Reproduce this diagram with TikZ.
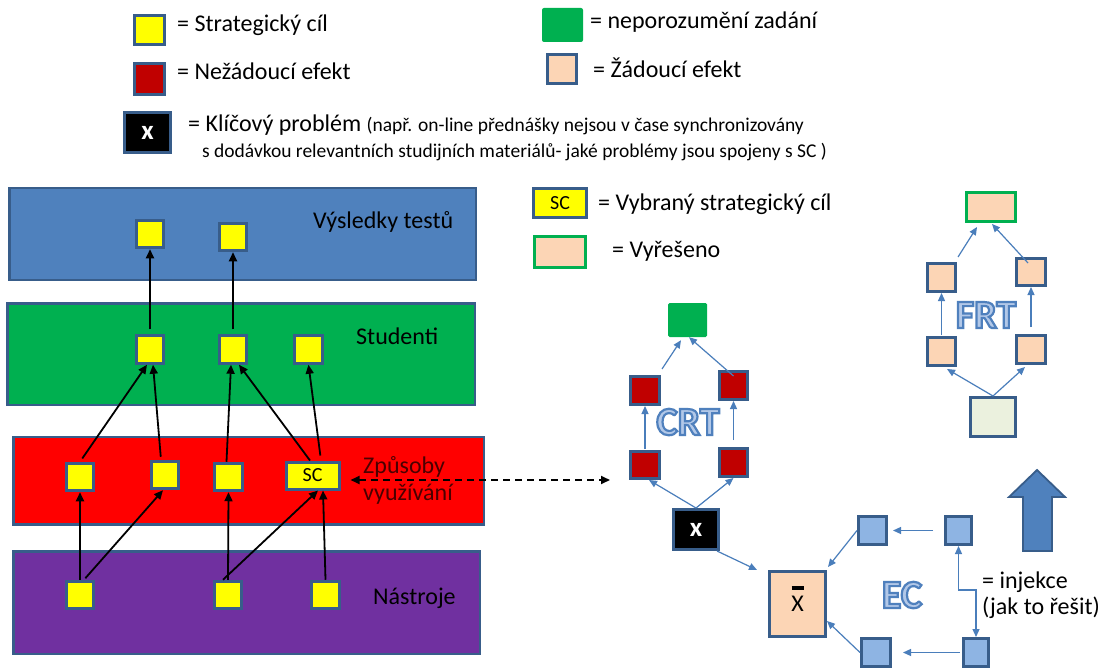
\documentclass[tikz,border=0pt]{standalone}
\usepackage{fontspec}
\setmainfont{Carlito}
\usetikzlibrary{arrows.meta}
\definecolor{bord}{HTML}{385D8A}
\definecolor{yel}{HTML}{FFFF00}
\definecolor{dred}{HTML}{C00000}
\definecolor{grn}{HTML}{00B050}
\definecolor{peach}{HTML}{FCD5B5}
\definecolor{pgreen}{HTML}{EBF1DE}
\definecolor{bandblue}{HTML}{4F81BD}
\definecolor{bandred}{HTML}{FF0000}
\definecolor{bandpurple}{HTML}{7030A0}
\definecolor{lblue}{HTML}{8EB4E3}
\definecolor{arrblue}{HTML}{4A7EBB}
\definecolor{inc}{HTML}{B2C8E8}
\definecolor{zptext}{HTML}{4A0000}
\newcommand\outlinetext[1]{{\color{inc}\special{pdf:literal direct 2 Tr 2.2 w 0.31 0.50 0.74 RG}#1\special{pdf:literal direct 0 Tr}}}
\tikzset{
 sq/.style={rectangle, draw=bord, line width=3pt, inner sep=0pt, minimum width=27.5pt, minimum height=27.5pt},
 ysq/.style={sq, fill=yel},
 rsq/.style={sq, fill=dred},
 psq/.style={sq, fill=peach},
 bsq/.style={sq, fill=lblue},
 band/.style={rectangle, draw=bord, line width=2.5pt, inner sep=0pt},
 lbl/.style={inner sep=0pt, anchor=base west, font=\fontsize{24}{29}\selectfont},
 blk/.style={-{Triangle[length=9pt,width=8pt]}, line width=1.8pt, draw=black},
 bla/.style={-{Triangle[length=8pt,width=7pt]}, line width=1.2pt, draw=arrblue},
 bigt/.style={font=\bfseries\fontsize{40}{48}\selectfont, inner sep=0pt},
 xtext/.style={text=white, font=\bfseries\fontsize{27}{32}\selectfont},
 sctext/.style={font=\fontsize{20}{24}\selectfont}
}
\begin{document}
\begin{tikzpicture}[x=1pt,y=-1pt]
\useasboundingbox[fill=white] (0,0) rectangle (1102,668);

% ---------- legend ----------
\node[ysq, minimum width=30pt, minimum height=29pt] (lgY) at (149.5,30) {};
\node[lbl] (lgYt) at (177,32) {= Strategický cíl};
\node[rsq, minimum width=30pt, minimum height=30.5pt] (lgR) at (149.5,79) {};
\node[lbl] (lgRt) at (177,80) {= Nežádoucí efekt};
\node[sq, fill=black, minimum width=46pt, minimum height=40pt, xtext] (lgX) at (147.5,132.5) {x};
\node[lbl] (lgXt) at (188,132) {= Klíčový problém {\fontsize{19.5}{23}\selectfont (např. on-line přednášky nejsou v čase synchronizovány}};
\node[lbl, font=\fontsize{19.5}{23}\selectfont] (lgXt2) at (202,158) {s dodávkou relevantních studijních materiálů- jaké problémy jsou spojeny s SC )};

\node[rectangle, fill=grn, rounded corners=2pt, minimum width=41pt, minimum height=34pt, inner sep=0pt] (lgG) at (562.5,25) {};
\node[lbl] (lgGt) at (590,29) {= neporozumění zadání};
\node[psq, minimum width=29pt, minimum height=29pt] (lgP) at (562,69) {};
\node[lbl] (lgPt) at (593,78) {= Žádoucí efekt};
\node[ysq, minimum width=53.5pt, minimum height=29pt, sctext] (lgSC) at (560,203) {SC};
\node[lbl] (lgSCt) at (598,211) {= Vybraný strategický cíl};
\node[psq, draw=grn, minimum width=51pt, minimum height=31pt] (lgV) at (559.5,252) {};
\node[lbl] (lgVt) at (612,258) {= Vyřešeno};

% ---------- bands ----------
\node[band, fill=bandblue, minimum width=466.5pt, minimum height=91.5pt] (bV) at (242.5,234) {};
\node[band, fill=grn, minimum width=467.5pt, minimum height=101.5pt] (bS) at (241,354) {};
\node[band, fill=bandred, minimum width=470.5pt, minimum height=87.5pt] (bZ) at (248.5,480.5) {};
\node[band, fill=bandpurple, minimum width=466.5pt, minimum height=102.5pt] (bN) at (246.5,602.5) {};

\node[lbl] (tV) at (313,229) {Výsledky testů};
\node[lbl] (tS) at (356,344) {Studenti};
\node[lbl, text=zptext] (tZ1) at (363,473) {Způsoby};
\node[lbl, text=zptext] (tZ2) at (363,500) {využívání};
\node[lbl] (tN) at (373,604) {Nástroje};

% squares
\node[ysq] (vy1) at (150,234) {};
\node[ysq] (vy2) at (233,237) {};
\node[ysq] (st1) at (150,349.5) {};
\node[ysq] (st2) at (233,349.5) {};
\node[ysq] (st3) at (308.5,349.5) {};
\node[ysq] (zp1) at (80,477) {};
\node[ysq] (zp2) at (165,475) {};
\node[ysq] (zp3) at (228.5,477) {};
\node[ysq, minimum width=53pt, minimum height=27pt, sctext] (SC) at (312.5,475.5) {SC};
\node[ysq] (na1) at (80,595) {};
\node[ysq] (na2) at (228,595) {};
\node[ysq] (na3) at (325.5,595) {};

% black arrows
\draw[blk, shorten <=5pt] (st1.north) -- (vy1.south);
\draw[blk, shorten <=5pt] (st2.north) -- (vy2.south);
\draw[blk, shorten <=4pt] (zp1.north) -- ([xshift=-3pt]st1.south);
\draw[blk, shorten <=3pt] ([xshift=-4pt]zp2.north) -- ([xshift=3pt]st1.south);
\draw[blk] ([xshift=-2pt]zp3.north) -- ([xshift=-2pt]st2.south);
\draw[blk] ([xshift=-2.5pt]SC.north) -- ([xshift=6pt]st2.south);
\draw[blk, shorten <=5pt] ([xshift=8.5pt]SC.north) -- (st3.south);
\draw[blk] (na1.north) -- (zp1.south);
\draw[blk, shorten <=2pt] ([xshift=4pt]na1.north) -- ([xshift=-2pt]zp2.south);
\draw[blk] (na2.north) -- (zp3.south);
\draw[blk] ([xshift=-5pt]na2.north) -- ([xshift=5.5pt]SC.south);
\draw[blk] (na3.north) -- ([xshift=10.5pt]SC.south);

% ---------- CRT ----------
\node[rectangle, fill=grn, rounded corners=1.5pt, minimum width=39pt, minimum height=34pt, inner sep=0pt] (crtG) at (687.5,320) {};
\node[rsq, minimum width=29pt, minimum height=28pt] (crtL2) at (645,390.5) {};
\node[rsq, minimum width=28pt, minimum height=28pt] (crtR2) at (733.5,385.5) {};
\node[rsq, minimum width=29pt, minimum height=27pt] (crtL1) at (645,465) {};
\node[rsq, minimum width=28pt, minimum height=28pt] (crtR1) at (733.5,462.5) {};
\node[sq, fill=black, minimum width=45pt, minimum height=40pt, xtext] (crtX) at (696,529.5) {x};
\node[bigt] (crtT) at (688,422) {\outlinetext{CRT}};

\draw[bla] (crtX.north) -- ([xshift=4pt]crtL1.south);
\draw[bla] (crtX.north) -- (crtR1.south);
\draw[bla, shorten <=1pt] (crtL1.north) -- (crtL2.south);
\draw[bla, shorten <=7pt] (crtR1.north) -- (crtR2.south);
\draw[bla] ([xshift=17pt,yshift=6pt]crtL2.north) -- ([xshift=-6.5pt,yshift=-3pt]crtG.south);
\draw[bla] ([yshift=-6pt]crtR2.north) -- ([xshift=1.5pt]crtG.south);

% dashed link
\draw[{Triangle[length=9pt,width=8pt]}-{Triangle[length=9pt,width=8pt]}, line width=1.8pt, dash pattern=on 7pt off 5pt]
  ([xshift=10pt,yshift=-4.5pt]SC.east) -- ([xshift=-19pt,yshift=-15pt]crtL1.west);

% ---------- FRT ----------
\node[psq, draw=grn, minimum width=49pt, minimum height=29pt] (frtT) at (991,207) {};
\node[psq, minimum width=28pt, minimum height=28pt] (frtL2) at (941.5,277.5) {};
\node[psq, minimum width=29pt, minimum height=27pt] (frtR2) at (1031,272) {};
\node[psq, minimum width=28pt, minimum height=28pt] (frtL1) at (941.5,351.5) {};
\node[psq, minimum width=29pt, minimum height=28pt] (frtR1) at (1031,349.5) {};
\node[sq, fill=pgreen, minimum width=45pt, minimum height=39pt] (frtB) at (993,417) {};
\node[bigt] (frtTx) at (986,315) {\outlinetext{FRT}};

\draw[bla] (frtB.north) -- ([xshift=5.5pt,yshift=-2pt]frtL1.south);
\draw[bla] (frtB.north) -- ([xshift=-6pt,yshift=-2pt]frtR1.south);
\draw[bla, shorten <=1pt] (frtL1.north) -- (frtL2.south);
\draw[bla, shorten <=7pt] (frtR1.north) -- (frtR2.south);
\draw[bla] ([xshift=16.5pt,yshift=5pt]frtL2.north) -- ([xshift=-14pt,yshift=-4pt]frtT.south);
\draw[bla] ([xshift=-3pt,yshift=-6pt]frtR2.north) -- ([xshift=1pt,yshift=-1pt]frtT.south);

% big arrow
\draw[fill=bandblue, draw=bord, line width=1.8pt, line join=miter]
  (1023,551) -- (1023,497) -- (1009,497) -- (1037,470) -- (1065,497) -- (1052,497) -- (1052,551) -- cycle;

% ---------- EC ----------
\node[psq, minimum width=56pt, minimum height=65pt, text depth=10pt, font=\fontsize{24}{29}\selectfont] (xbar) at (797.5,604) {\rlap{\hspace{0.3pt}\raisebox{22pt}{\rule{12pt}{3.5pt}}}X};
\node[bsq, minimum width=28pt, minimum height=28pt] (ecUL) at (872.5,530.5) {};
\node[bsq, minimum width=26pt, minimum height=28pt] (ecUR) at (958.5,530.5) {};
\node[bsq, minimum width=29pt, minimum height=28pt] (ecLL) at (876,652.5) {};
\node[bsq, minimum width=25pt, minimum height=28pt] (ecLR) at (976,652.5) {};
\node[bigt] (ecT) at (902,595) {\outlinetext{EC}};
\node[lbl] (inj1) at (982,588) {= injekce};
\node[lbl] (inj2) at (982,614) {(jak to řešit)};

\draw[bla, shorten <=11pt, shorten >=5pt] (ecUR.west) -- (ecUL.east);
\draw[bla] (ecUL.west) -- ([xshift=1pt,yshift=3pt]xbar.north east);
\draw[bla, shorten <=2pt, shorten >=11pt] (ecLR.west) -- (ecLL.east);
\draw[bla] (ecLL.west) -- ([yshift=-17pt]xbar.east);
\draw[{Triangle[length=8pt,width=7pt]}-{Triangle[length=8pt,width=7pt]}, line width=1.2pt, draw=arrblue]
  (ecUR.south) -- ++(0,44) coordinate (injk) -| (ecLR.north);
\draw[bla] ([xshift=-3pt]crtX.south east) -- ([xshift=-11pt]xbar.north west);
\end{tikzpicture}
\end{document}
